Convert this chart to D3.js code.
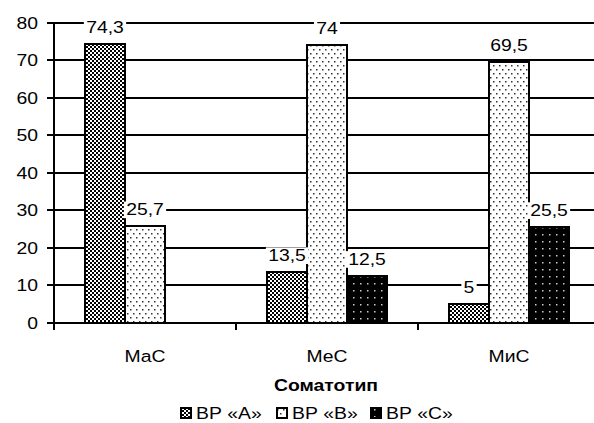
<!DOCTYPE html>
<html>
<head>
<meta charset="utf-8">
<script src="https://cdn.jsdelivr.net/npm/d3@7"></script>
<style>
  body { margin: 0; background: #fff; }
  text { font-family: Arial, "Liberation Sans", sans-serif; fill: #000; }
</style>
</head>
<body>
<div id="wrapper"></div>
<script>
// data
const categories = ["МаС", "МеС", "МиС"]
const seriesNames = ["ВР «А»", "ВР «В»", "ВР «С»"]
const valuesA = [74.3, 13.5, 5]
const valuesB = [25.7, 74, 69.5]
const valuesC = [null, 12.5, 25.5]
const yTicks = [0, 10, 20, 30, 40, 50, 60, 70, 80]
const xTitle = "Соматотип"

// the text in the picture is a bit wider than plain Arial
const stretchX = 1.14
const fontSize = "17px"

function drawBars() {
  const dimensions = {
    width: 594,
    height: 423,
    left: 54,
    right: 600,
    top: 22.5,
    bottom: 323
  }

  const svg = d3.select("#wrapper")
    .append("svg")
      .attr("width", dimensions.width)
      .attr("height", dimensions.height)

  // patterns
  const defs = svg.append("defs")

  const patA = defs.append("pattern")
    .attr("id", "patA").attr("patternUnits", "userSpaceOnUse")
    .attr("width", 4).attr("height", 4)
  patA.append("rect").attr("width", 4).attr("height", 4).attr("fill", "#fff")
  patA.append("rect").attr("width", 2).attr("height", 2).attr("fill", "#000")
  patA.append("rect").attr("x", 2).attr("y", 2).attr("width", 2).attr("height", 2).attr("fill", "#000")

  const patB = defs.append("pattern")
    .attr("id", "patB").attr("patternUnits", "userSpaceOnUse")
    .attr("width", 6).attr("height", 8)
  patB.append("rect").attr("width", 6).attr("height", 8).attr("fill", "#fff")
  patB.append("rect").attr("x", 1).attr("y", 1).attr("width", 1.5).attr("height", 1.5).attr("fill", "#333")
  patB.append("rect").attr("x", 4).attr("y", 5).attr("width", 1.5).attr("height", 1.5).attr("fill", "#333")

  const patC = defs.append("pattern")
    .attr("id", "patC").attr("patternUnits", "userSpaceOnUse")
    .attr("width", 7).attr("height", 7)
  patC.append("rect").attr("width", 7).attr("height", 7).attr("fill", "#000")
  patC.append("rect").attr("x", 3).attr("y", 3).attr("width", 1.5).attr("height", 1.5).attr("fill", "#ccc")

  const fills = ["url(#patA)", "url(#patB)", "url(#patC)"]

  // scales
  const yScale = d3.scaleLinear()
    .domain([0, 80])
    .range([dimensions.bottom, dimensions.top])

  const xScale = d3.scaleBand()
    .domain(categories)
    .range([dimensions.left, dimensions.right])

  const x1Scale = d3.scaleBand()
    .domain(seriesNames)
    .range([0, xScale.bandwidth()])
    .paddingOuter(0.775)

  // gridlines
  svg.append("g")
    .attr("shape-rendering", "crispEdges")
    .selectAll("line")
    .data(yTicks.filter(d => d > 0))
    .join("line")
      .attr("x1", dimensions.left)
      .attr("x2", dimensions.right)
      .attr("y1", d => Math.round(yScale(d)))
      .attr("y2", d => Math.round(yScale(d)))
      .attr("stroke", "#000")
      .attr("stroke-width", 2)

  // y axis
  const yAxis = svg.append("g")
    .attr("transform", `translate(${dimensions.left},0)`)
    .call(d3.axisLeft(yScale).tickValues(yTicks).tickSize(7).tickPadding(8))
  yAxis.select(".domain").remove()
  yAxis.selectAll(".tick").attr("transform", d => `translate(0,${Math.round(yScale(d))})`)
  yAxis.selectAll(".tick line")
    .attr("stroke", "#000")
    .attr("stroke-width", 2)
    .attr("shape-rendering", "crispEdges")
  yAxis.selectAll(".tick text")
    .attr("x", null)
    .attr("transform", `translate(-16,0) scale(${stretchX},1)`)
    .attr("dy", "0.36em")
    .style("font-size", fontSize)
    .style("font-family", "Arial, 'Liberation Sans', sans-serif")
  yAxis.append("line")
    .attr("y1", dimensions.top - 1)
    .attr("y2", dimensions.bottom + 1)
    .attr("stroke", "#000")
    .attr("stroke-width", 2)
    .attr("shape-rendering", "crispEdges")

  // bars
  const allSeries = [valuesA, valuesB, valuesC]
  const barData = []
  allSeries.forEach((vals, si) => {
    vals.forEach((v, ci) => {
      if (v != null) barData.push({ cat: categories[ci], series: seriesNames[si], si, value: v })
    })
  })

  svg.append("g")
    .attr("shape-rendering", "crispEdges")
    .selectAll("rect")
    .data(barData)
    .join("rect")
      .attr("x", d => xScale(d.cat) + x1Scale(d.series))
      .attr("y", d => yScale(d.value))
      .attr("width", x1Scale.bandwidth())
      .attr("height", d => yScale(0) - yScale(d.value))
      .attr("fill", d => fills[d.si])
      .attr("stroke", "#000")
      .attr("stroke-width", 2)

  // x axis
  svg.append("line")
    .attr("x1", dimensions.left - 1)
    .attr("x2", dimensions.right)
    .attr("y1", dimensions.bottom)
    .attr("y2", dimensions.bottom)
    .attr("stroke", "#000")
    .attr("stroke-width", 2)
    .attr("shape-rendering", "crispEdges")

  const boundaries = categories.map(c => xScale(c)).concat([dimensions.right])
  svg.append("g")
    .attr("shape-rendering", "crispEdges")
    .selectAll("line")
    .data(boundaries)
    .join("line")
      .attr("x1", d => d)
      .attr("x2", d => d)
      .attr("y1", dimensions.bottom)
      .attr("y2", dimensions.bottom + 7)
      .attr("stroke", "#000")
      .attr("stroke-width", 2)

  svg.append("g")
    .selectAll("text")
    .data(categories)
    .join("text")
      .attr("transform", d => `translate(${xScale(d) + xScale.bandwidth() / 2},362) scale(${stretchX},1)`)
      .attr("text-anchor", "middle")
      .style("font-size", fontSize)
      .text(d => d)

  svg.append("text")
    .attr("transform", `translate(${(dimensions.left + dimensions.right) / 2 - 1},391) scale(${stretchX},1)`)
    .attr("text-anchor", "middle")
    .style("font-size", fontSize)
    .style("font-weight", "bold")
    .text(xTitle)

  // value labels with white boxes
  const labels = svg.append("g")
    .selectAll("g")
    .data(barData)
    .join("g")
      .attr("transform", d => `translate(${xScale(d.cat) + x1Scale(d.series) + x1Scale.bandwidth() / 2},${yScale(d.value) - 11}) scale(${stretchX},1)`)

  labels.append("rect").attr("fill", "#fff")
  labels.append("text")
    .attr("text-anchor", "middle")
    .style("font-size", fontSize)
    .text(d => String(d.value).replace(".", ","))

  labels.each(function() {
    const g = d3.select(this)
    const b = g.select("text").node().getBBox()
    g.select("rect")
      .attr("x", b.x - 2)
      .attr("y", b.y + 1)
      .attr("width", b.width + 4)
      .attr("height", b.height - 2)
  })

  // legend
  const legend = svg.append("g")
  const legendX = [180, 276, 370]
  seriesNames.forEach((name, i) => {
    legend.append("rect")
      .attr("x", legendX[i] + 1)
      .attr("y", 408)
      .attr("width", 10)
      .attr("height", 10)
      .attr("fill", fills[i])
      .attr("stroke", "#000")
      .attr("stroke-width", 2)
      .attr("shape-rendering", "crispEdges")
    legend.append("text")
      .attr("transform", `translate(${legendX[i] + 16},419) scale(${stretchX},1)`)
      .style("font-size", fontSize)
      .text(name)
  })
}

drawBars()
</script>
</body>
</html>
